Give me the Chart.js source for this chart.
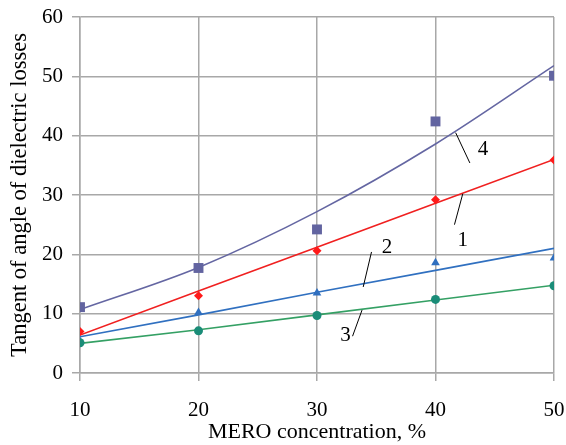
<!DOCTYPE html>
<html>
<head>
<meta charset="utf-8">
<script src="https://cdn.jsdelivr.net/npm/chart.js@4/dist/chart.umd.min.js"></script>
<style>
  html, body { margin: 0; padding: 0; background: #fff; }
  #wrap { width: 566px; height: 445px; }
</style>
</head>
<body>
<div id="wrap"><canvas id="lossChart" width="566" height="445"></canvas></div>
<script>
// MERO concentration vs tangent of dielectric loss angle

const concentration = [10, 20, 30, 40, 50];

// measured points
const points1 = [7.0, 13.0, 20.6, 29.2, 35.9];
const points2 = [5.3, 10.2, 13.5, 18.6, 19.4];
const points3 = [5.1, 7.1, 9.7, 12.4, 14.7];
const points4 = [11.1, 17.7, 24.2, 42.4, 50.1];

// trend lines
const trend1 = [6.4, 13.8, 21.2, 28.6, 36.0];
const trend2 = [6.1, 9.8, 13.6, 17.3, 21.0];
const trend3 = [5.0, 7.3, 9.8, 12.3, 14.8];
const trend4 = [10.7, 17.8, 27.2, 38.6, 51.8];

const yTicks = [0, 10, 20, 30, 40, 50, 60];

// curve labels: text position and leader line ends, in data units
const curveLabels = [
  { text: '4', x: 44.0, y: 37.6, from: [41.7, 40.5], to: [42.9, 35.4] },
  { text: '1', x: 42.3, y: 22.4, from: [42.3, 30.2], to: [41.6, 25.0] },
  { text: '2', x: 35.9, y: 21.2, from: [34.6, 20.4], to: [33.9, 14.5] },
  { text: '3', x: 32.4, y: 6.4, from: [33.8, 10.6], to: [33.0, 6.2] }
];

const serif = '"Liberation Serif", "Times New Roman", serif';

function pts(values) {
  return concentration.map((x, i) => ({ x: x, y: values[i] }));
}

const curveLabelPlugin = {
  id: 'curveLabels',
  afterDatasetsDraw(chart) {
    const { ctx, scales: { x, y } } = chart;
    ctx.save();
    ctx.strokeStyle = '#000';
    ctx.lineWidth = 1;
    ctx.fillStyle = '#000';
    ctx.font = '21px ' + serif;
    ctx.textAlign = 'center';
    ctx.textBaseline = 'middle';
    curveLabels.forEach(l => {
      ctx.beginPath();
      ctx.moveTo(x.getPixelForValue(l.from[0]), y.getPixelForValue(l.from[1]));
      ctx.lineTo(x.getPixelForValue(l.to[0]), y.getPixelForValue(l.to[1]));
      ctx.stroke();
      ctx.fillText(l.text, x.getPixelForValue(l.x), y.getPixelForValue(l.y));
    });
    ctx.restore();
  }
};

function markerSet(data, style, color, radius) {
  return {
    data: pts(data),
    showLine: false,
    pointStyle: style,
    pointRadius: radius,
    pointBackgroundColor: color,
    pointBorderColor: color,
    pointBorderWidth: 0
  };
}

function trendSet(data, color, smooth) {
  return {
    data: pts(data),
    showLine: true,
    borderColor: color,
    borderWidth: 1.6,
    pointRadius: 0,
    cubicInterpolationMode: smooth ? 'monotone' : 'default',
    tension: 0
  };
}

new Chart(document.getElementById('lossChart'), {
  type: 'scatter',
  data: {
    datasets: [
      markerSet(points3, 'circle', '#1a8c78', 4.5),
      markerSet(points2, 'triangle', '#2f6fbf', 5),
      markerSet(points1, 'rectRot', '#ff1a1a', 4.5),
      markerSet(points4, 'rect', '#6264a0', 7),
      trendSet(trend3, '#34a064', false),
      trendSet(trend2, '#3070c0', false),
      trendSet(trend1, '#f02020', false),
      trendSet(trend4, '#6466a2', true)
    ]
  },
  plugins: [curveLabelPlugin],
  options: {
    responsive: false,
    animation: false,
    layout: { padding: { left: 0, right: 12, top: 17, bottom: 0 } },
    plugins: {
      legend: { display: false },
      tooltip: { enabled: false }
    },
    scales: {
      x: {
        type: 'linear',
        min: 10,
        max: 50,
        afterFit: s => { s.height = 72; s.paddingLeft = 0; s.paddingRight = 0; },
        ticks: {
          stepSize: 10,
          padding: 17,
          color: '#000',
          font: { family: serif, size: 21 }
        },
        grid: { color: '#a8a8a8', lineWidth: 1.5, tickLength: 8 },
        border: { color: '#a8a8a8', width: 1.5 },
        title: {
          display: true,
          text: 'MERO concentration, %',
          color: '#000',
          font: { family: serif, size: 22 },
          padding: { top: 0, bottom: 0 }
        }
      },
      y: {
        type: 'linear',
        min: 0,
        max: 60,
        afterFit: s => { s.width = 80; s.paddingTop = 0; s.paddingBottom = 0; },
        afterBuildTicks: s => { s.ticks = yTicks.map(v => ({ value: v })); },
        ticks: {
          padding: 9,
          color: '#000',
          font: { family: serif, size: 21 }
        },
        grid: { color: '#a8a8a8', lineWidth: 1.5, tickLength: 8 },
        border: { color: '#a8a8a8', width: 1.5 },
        title: {
          display: true,
          text: 'Tangent of angle of dielectric losses',
          color: '#000',
          font: { family: serif, size: 22.5 },
          padding: { top: 7, bottom: 0 }
        }
      }
    }
  }
});
</script>
</body>
</html>
